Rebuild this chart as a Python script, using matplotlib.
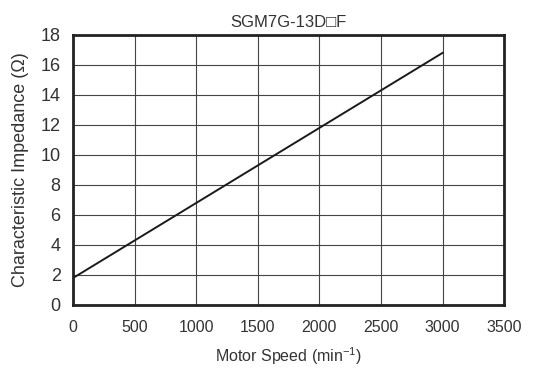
import matplotlib
matplotlib.use("Agg")
import matplotlib.pyplot as plt

# values
motor_speed = [0, 3000]
impedance = [1.8, 16.8]
x_ticks = [0, 500, 1000, 1500, 2000, 2500, 3000, 3500]
y_ticks = [0, 2, 4, 6, 8, 10, 12, 14, 16, 18]

plt.rcParams["font.family"] = ["Liberation Sans", "DejaVu Sans"]
plt.rcParams["mathtext.default"] = "regular"

fig = plt.figure(figsize=(5.54, 3.71), dpi=100)
ax = fig.add_axes([0.132, 0.178, 0.778, 0.728])

ax.plot(motor_speed, impedance, color="#1a1a1a", linewidth=1.4)

ax.set_xlim(0, 3500)
ax.set_ylim(0, 18)
ax.set_xticks(x_ticks)
ax.set_yticks(y_ticks)
ax.tick_params(length=0, colors="#333333")
ax.tick_params(axis="y", pad=9, labelsize=13)
ax.tick_params(axis="x", pad=11, labelsize=11.5)
ax.grid(True, color="#444444", linewidth=0.8)
ax.set_axisbelow(True)
for sp in ax.spines.values():
    sp.set_linewidth(2.0)
    sp.set_color("#222222")

ax.set_title("SGM7G-13D\u25a1F", fontsize=12, color="#333333", pad=6)
ax.set_xlabel("Motor Speed (min$^{-1}$)", fontsize=11.5, color="#333333", labelpad=7)
ax.set_ylabel("Characteristic Impedance (\u03a9)", fontsize=13, color="#333333", labelpad=8)

fig.savefig("out.png", dpi=100)
